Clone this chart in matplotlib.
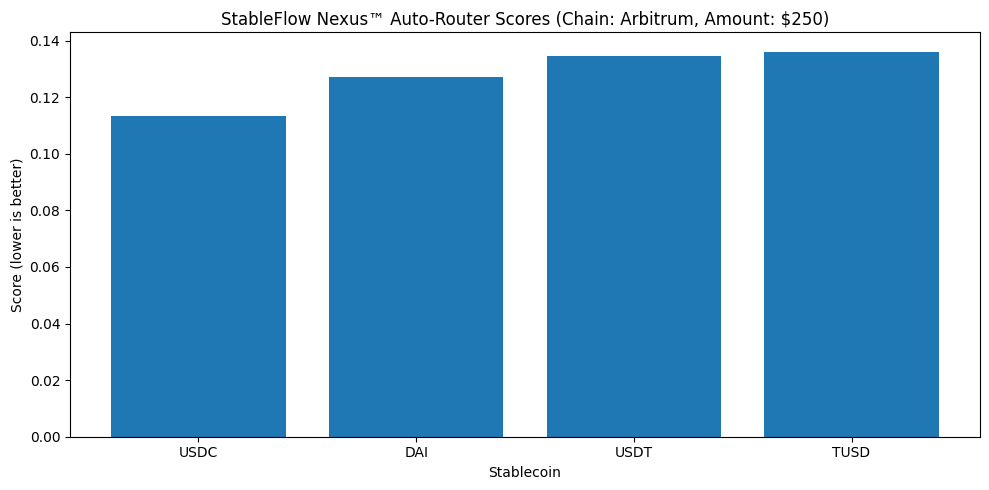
import matplotlib
matplotlib.use("Agg")
import matplotlib.pyplot as plt

coins = ["USDC", "DAI", "USDT", "TUSD"]
scores = [0.1134, 0.1272, 0.1347, 0.1361]

fig, ax = plt.subplots(figsize=(10, 5), dpi=100)
ax.bar(coins, scores, color="#1f77b4")
ax.set_title("StableFlow Nexus\u2122 Auto-Router Scores (Chain: Arbitrum, Amount: $250)")
ax.set_xlabel("Stablecoin")
ax.set_ylabel("Score (lower is better)")
fig.tight_layout()
fig.savefig("out.png", dpi=100, bbox_inches="tight")
